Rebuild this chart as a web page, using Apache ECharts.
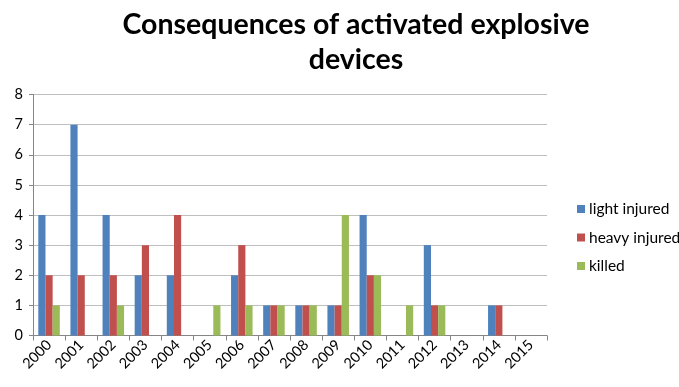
<!DOCTYPE html>
<html>
<head>
<meta charset="utf-8">
<script src="https://cdn.jsdelivr.net/npm/echarts@6/dist/echarts.min.js"></script>
<style>
  html, body { margin: 0; padding: 0; background: #fff; }
  #chart { width: 679px; height: 387px; }
</style>
</head>
<body>
<div id="chart"></div>
<script>
// Yearly consequences of activated explosive devices
const years = ['2000','2001','2002','2003','2004','2005','2006','2007',
               '2008','2009','2010','2011','2012','2013','2014','2015'];
const lightInjured = [4, 7, 4, 2, 2, 0, 2, 1, 1, 1, 4, 0, 3, 0, 1, 0];
const heavyInjured = [2, 2, 2, 3, 4, 0, 3, 1, 1, 1, 2, 0, 1, 0, 1, 0];
const killed       = [1, 0, 1, 0, 0, 1, 1, 1, 1, 4, 2, 1, 1, 0, 0, 0];
const yTicks = [0, 1, 2, 3, 4, 5, 6, 7, 8];

const font = 'Lato, "Open Sans", sans-serif';
const chart = echarts.init(document.getElementById('chart'));

function bar(name, data, color) {
  return {
    name, type: 'bar', data,
    barGap: '0%', barCategoryGap: '33%',
    itemStyle: { color },
    emphasis: { disabled: true }
  };
}

chart.setOption({
  animation: false,
  title: {
    text: 'Consequences of activated explosive\ndevices',
    left: 351, top: 2, textAlign: 'center',
    textStyle: { fontFamily: font, fontWeight: 'bold', fontSize: 28.5, lineHeight: 35, color: '#000' }
  },
  legend: {
    orient: 'vertical', left: 572, top: 196,
    itemWidth: 8, itemHeight: 8, itemGap: 12.5,
    icon: 'rect',
    textStyle: { fontFamily: font, fontSize: 15.5, color: '#000', padding: [0, 0, 0, -1] },
    data: ['light injured', 'heavy injured', 'killed']
  },
  grid: { left: 33, top: 94.5, width: 514, height: 241, containLabel: false },
  xAxis: {
    type: 'category', data: years,
    axisLine: { lineStyle: { color: '#868686' } },
    axisTick: { show: true, length: 5, lineStyle: { color: '#868686' } },
    axisLabel: { rotate: 45, fontFamily: font, fontSize: 14.5, color: '#000', margin: 7, interval: 0 }
  },
  yAxis: {
    type: 'value', min: yTicks[0], max: yTicks[yTicks.length - 1], interval: 1,
    axisLine: { show: true, lineStyle: { color: '#868686' } },
    axisTick: { show: true, length: 4, lineStyle: { color: '#868686' } },
    axisLabel: { fontFamily: font, fontSize: 14.5, color: '#000', margin: 10 },
    splitLine: { lineStyle: { color: '#bfbfbf' } }
  },
  series: [
    bar('light injured', lightInjured, '#4F81BD'),
    bar('heavy injured', heavyInjured, '#C0504D'),
    bar('killed', killed, '#9BBB59')
  ]
});
</script>
</body>
</html>
